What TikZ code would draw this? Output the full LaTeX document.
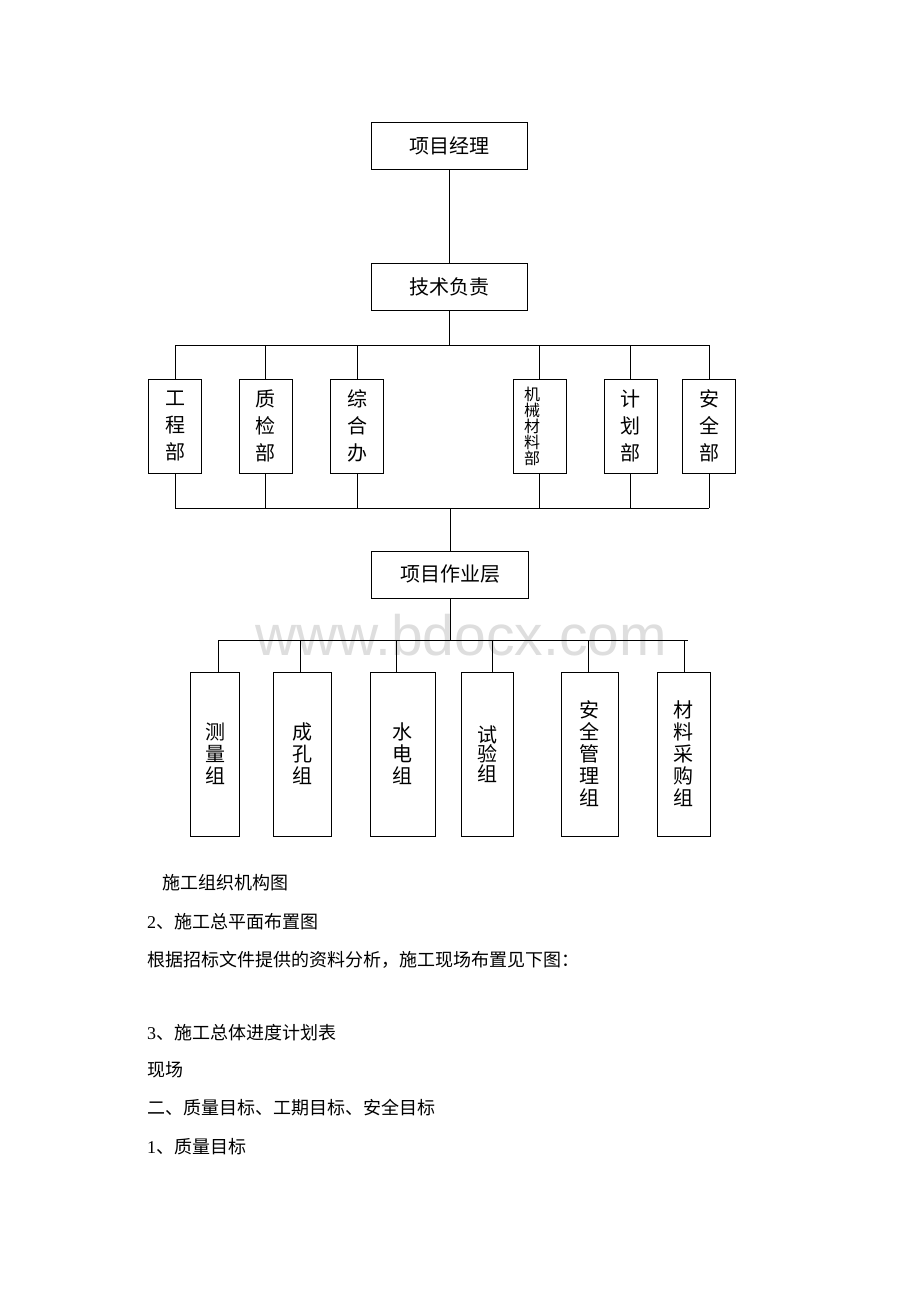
\documentclass[tikz,border=0pt]{standalone}
\usepackage{fontspec}
\newfontfamily\cjk{Noto Sans CJK SC}
\newfontfamily\tms{Liberation Serif}
\newfontfamily\wmfont{Liberation Sans}
\begin{document}
\begin{tikzpicture}[
    x=1pt, y=-1pt,
    box/.style={draw, line width=1pt, inner sep=0pt, align=center,
      font=\cjk\fontsize{20}{24}\selectfont},
    headbox/.style={box, minimum width=156pt, minimum height=47pt},
    deptbox/.style={box, minimum width=53pt, minimum height=94pt,
      font=\cjk\fontsize{20}{27}\selectfont},
    groupbox/.style={box, minimum height=164pt,
      font=\cjk\fontsize{20}{22}\selectfont},
    link/.style={line width=1pt},
    body/.style={anchor=west, inner sep=0pt, font=\cjk\fontsize{18}{18}\selectfont}]
  \useasboundingbox (0,0) rectangle (920,1302);
  % watermark
  \node[anchor=base, inner sep=0pt, text=black!13,
    font=\wmfont\fontsize{57}{57}\selectfont] (watermark) at (461,655) {www.bdocx.com};
  % top
  \node[headbox] (pm) at (449,146) {项目经理};
  \node[headbox] (tech) at (449,286.5) {技术负责};
  % departments
  \node[deptbox] (eng) at (175,426) {工\\程\\部};
  \node[deptbox] (qc) at (265.5,426) {质\\检\\部};
  \node[deptbox] (office) at (357,426) {综\\合\\办};
  \node[deptbox, text width=31pt, align=left,
    font=\cjk\fontsize{16}{16}\selectfont] (mech) at (539.5,426) {机\\械\\材\\料\\部};
  \node[deptbox] (plan) at (630.5,426) {计\\划\\部};
  \node[deptbox] (safety) at (709,426) {安\\全\\部};
  \node[headbox, minimum width=157pt] (work) at (450,574.5) {项目作业层};
  % groups
  \node[groupbox, minimum width=49pt] (survey) at (215,754) {测\\量\\组};
  \node[groupbox, minimum width=58pt] (bore) at (302,754) {成\\孔\\组};
  \node[groupbox, minimum width=65pt] (power) at (402.5,754) {水\\电\\组};
  \node[groupbox, minimum width=52pt,
    font=\cjk\fontsize{20}{18}\selectfont] (test) at (487.5,754) {试\\验\\组};
  \node[groupbox, minimum width=57pt] (safegroup) at (589.5,754) {安\\全\\管\\理\\组};
  \node[groupbox, minimum width=53pt] (purchase) at (683.5,754) {材\\料\\采\\购\\组};
  % buses
  \coordinate (topL) at (175,345);
  \coordinate (topR) at (709,345);
  \coordinate (midL) at (175,508);
  \coordinate (midR) at (709,508);
  \coordinate (lowL) at (218,640);
  \coordinate (lowR) at (688,640);
  \draw[link] (pm) -- (tech);
  \draw[link] (tech) -- (tech |- topL);
  \draw[link] (topL) -- (topR);
  \draw[link] (midL) -- (midR);
  \foreach \d in {eng,qc,office,mech,plan,safety}{
    \draw[link] (\d.north) -- (\d.north |- topL);
    \draw[link] (\d.south) -- (\d.south |- midL);
  }
  \draw[link] (work) -- (work |- midL);
  \draw[link] (work) -- (work |- lowL);
  \draw[link] (lowL) -- (lowR);
  \foreach \g/\dx in {survey/3,bore/-2,power/-6,test/4.5,safegroup/-1,purchase/0.5}
    \draw[link] (\g.north) ++(\dx,0) coordinate (stem) -- (stem |- lowL);
  % text below
  \node[body] (caption) at (162,883) {施工组织机构图};
  \node[body] (sec2) at (147,922) {{\tms 2}、施工总平面布置图};
  \node[body] (layout) at (147,960) {根据招标文件提供的资料分析，施工现场布置见下图：};
  \node[body] (sec3) at (147,1033) {{\tms 3}、施工总体进度计划表};
  \node[body] (site) at (147,1070) {现场};
  \node[body] (goals) at (147,1108) {二、质量目标、工期目标、安全目标};
  \node[body] (goal1) at (147,1147) {{\tms 1}、质量目标};
\end{tikzpicture}
\end{document}
